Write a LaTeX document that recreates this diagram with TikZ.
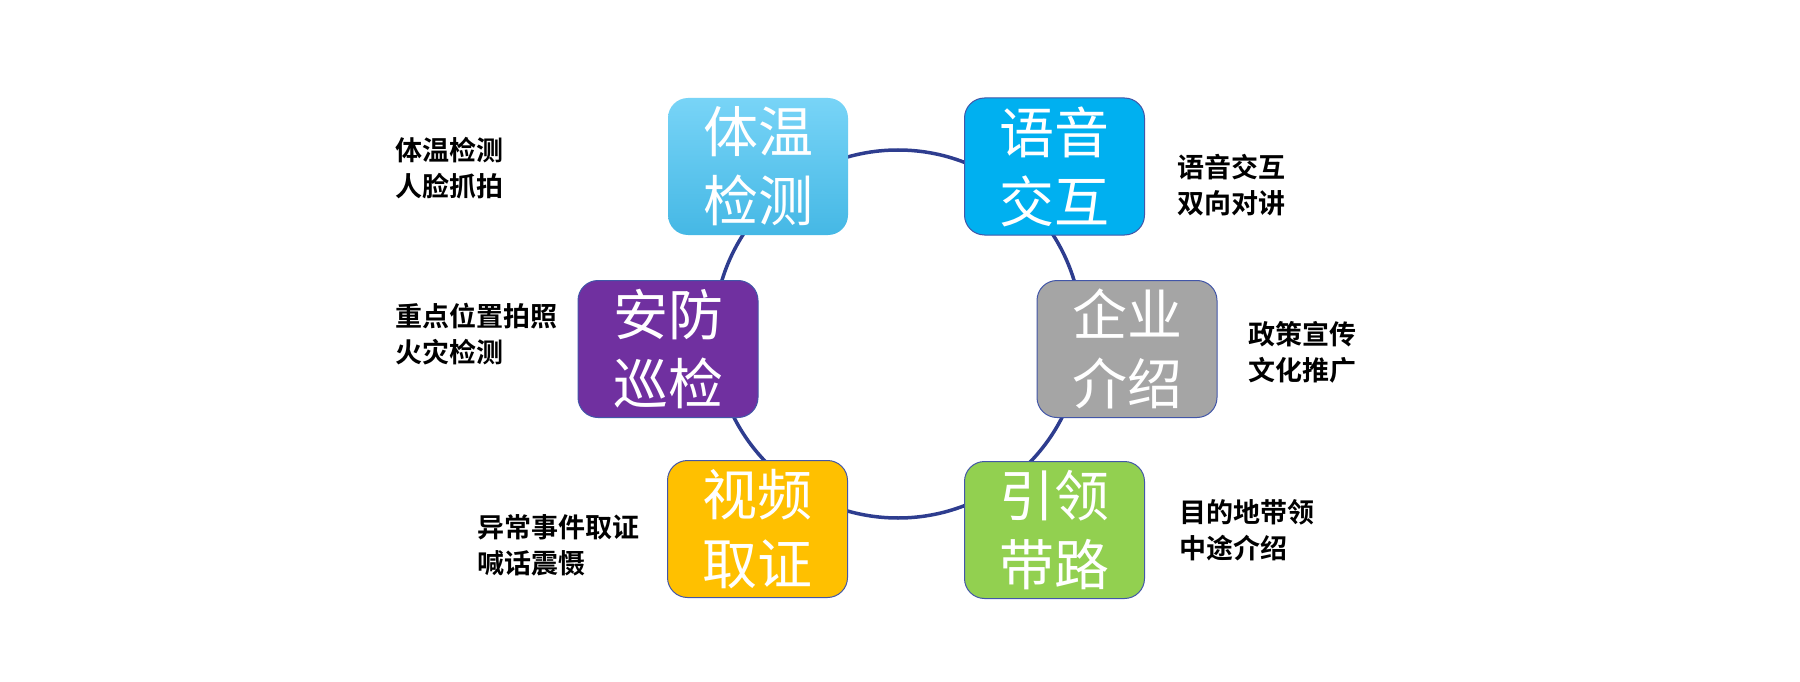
\documentclass[tikz,border=0pt]{standalone}
\usepackage{fontspec}
\newfontfamily\cjk{Noto Sans CJK SC}
\newfontfamily\cjklab{Noto Sans CJK SC}[BoldFont={Noto Sans CJK SC Bold}]
\definecolor{ringblue}{HTML}{2E3D8F}
\definecolor{edgeblue}{HTML}{4256A8}
\definecolor{skytop}{HTML}{78D4F7}
\definecolor{skybot}{HTML}{45B8E5}
\definecolor{cyanbox}{HTML}{00B0F0}
\definecolor{purplebox}{HTML}{7030A0}
\definecolor{graybox}{HTML}{A5A5A5}
\definecolor{goldbox}{HTML}{FFC000}
\definecolor{greenbox}{HTML}{92D050}
\tikzset{
  ring/.style={circle, draw=ringblue, line width=3.5pt, minimum size=368pt, inner sep=0pt, outer sep=0pt},
  featbox/.style={rectangle, rounded corners=20pt, draw=edgeblue, line width=1pt,
    minimum width=180pt, minimum height=137pt, inner sep=0pt, align=center,
    text=white, font=\cjk\fontsize{55pt}{69pt}\selectfont},
  sidelabel/.style={anchor=west, align=left, inner sep=0pt, text=black,
    font=\cjklab\bfseries\fontsize{27pt}{36pt}\selectfont}
}
\begin{document}
\begin{tikzpicture}[x=1pt,y=-1pt]
\useasboundingbox[fill=white] (0,0) rectangle (1800,682);
\node[ring] (ring) at (898,334) {};
\node[featbox, draw=none, top color=skytop, bottom color=skybot] (b1) at (758,166.5) {体温\\检测};
\node[featbox, fill=cyanbox] (b2) at (1054.5,166.5) {语音\\交互};
\node[featbox, fill=purplebox] (b3) at (668,349) {安防\\巡检};
\node[featbox, fill=graybox] (b4) at (1127,349) {企业\\介绍};
\node[featbox, fill=goldbox] (b5) at (757.5,529) {视频\\取证};
\node[featbox, fill=greenbox] (b6) at (1054.5,530) {引领\\带路};
\node[sidelabel] (l1) at (395,168) {体温检测\\人脸抓拍};
\node[sidelabel] (l2) at (1177,185) {语音交互\\双向对讲};
\node[sidelabel] (l3) at (395,334) {重点位置拍照\\火灾检测};
\node[sidelabel] (l4) at (1248,352) {政策宣传\\文化推广};
\node[sidelabel] (l5) at (477,545) {异常事件取证\\喊话震慑};
\node[sidelabel] (l6) at (1179,530) {目的地带领\\中途介绍};
\end{tikzpicture}
\end{document}
